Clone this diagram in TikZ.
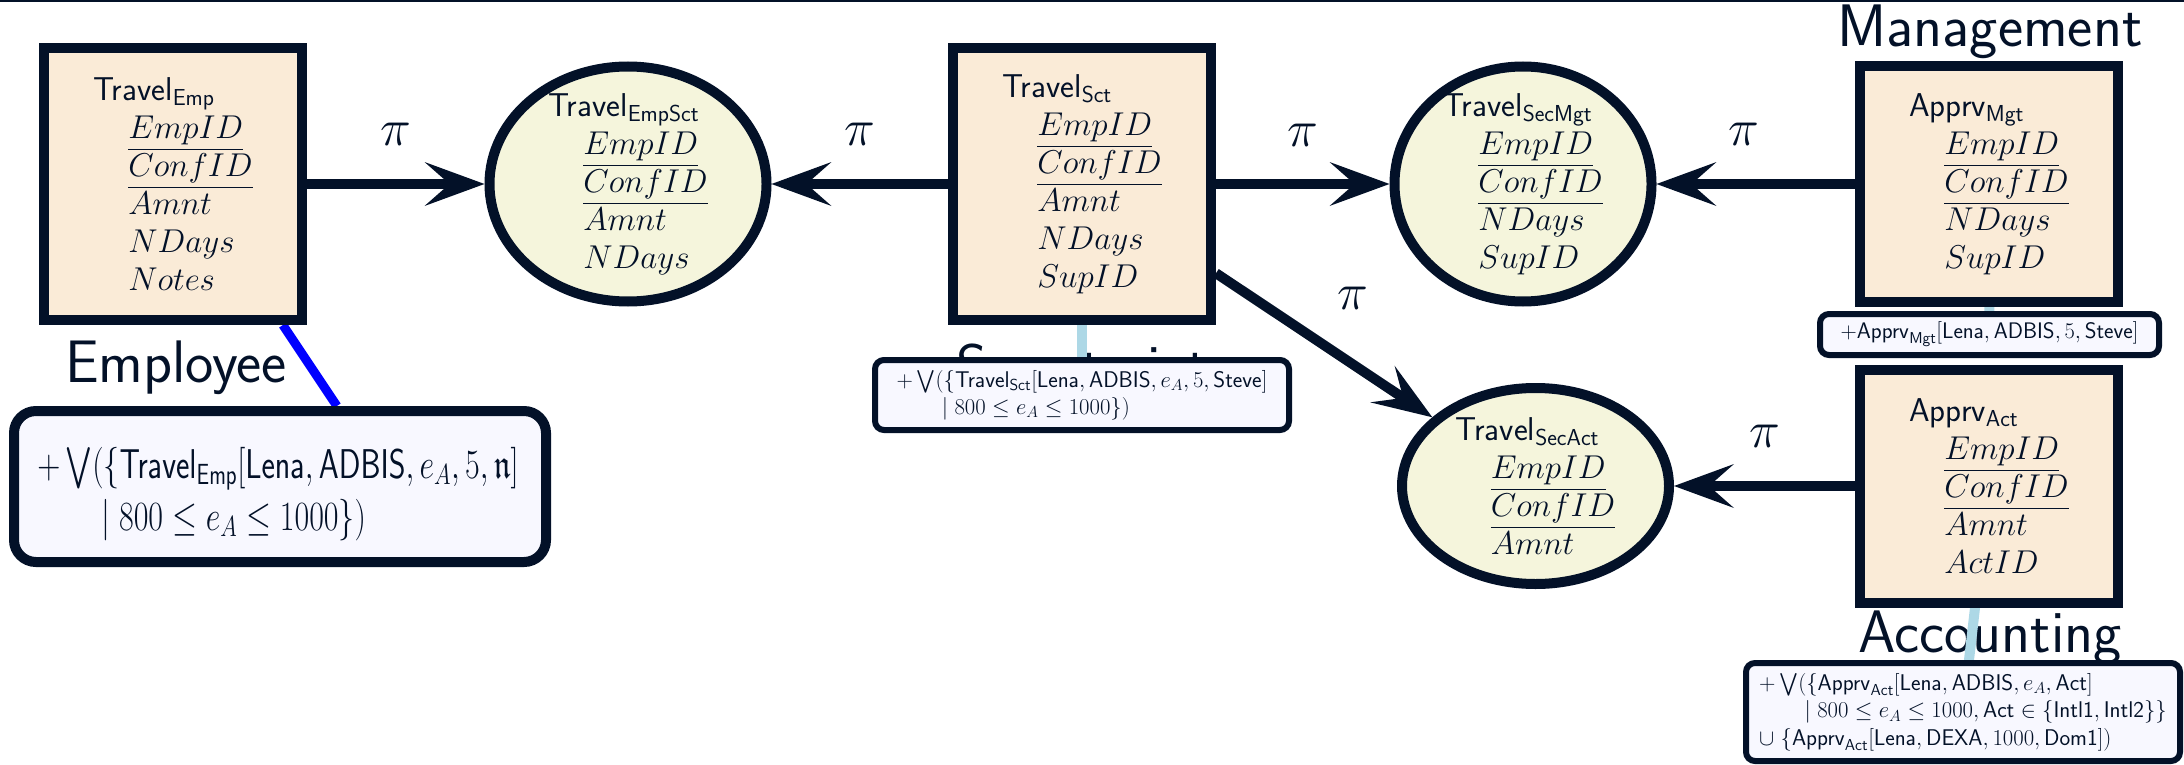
\RequirePackage{fix-cm}
\documentclass[tikz,border=0pt]{standalone}
\usepackage{amsmath,amssymb}
\usetikzlibrary{arrows.meta,shapes.geometric,calc}
\definecolor{dk}{RGB}{3,17,40}
\definecolor{boxfill}{RGB}{250,235,215}
\definecolor{ellfill}{RGB}{245,245,220}
\definecolor{notefill}{RGB}{248,248,255}
\definecolor{lblue}{RGB}{173,216,230}
\pgfdeclarelayer{bg}
\pgfsetlayers{bg,main}
\newcommand\fieldfont{\fontsize{33}{38}\selectfont\sffamily}
\newcommand\relnm[2]{\textsf{#1}$_{\mathsf{#2}}$}
\newcommand\keyat[1]{\hspace*{35pt}$\underline{#1}$}
\newcommand\plainat[1]{\hspace*{35pt}$#1$}
\tikzset{
  tbox/.style={draw=dk, line width=10pt, fill=boxfill, rectangle, minimum width=258pt, inner sep=0pt, align=left, font=\fieldfont, text=dk},
  ellshape/.style={draw=dk, line width=10pt, fill=ellfill, ellipse, inner sep=0pt},
  fieldtxt/.style={align=left, font=\fieldfont, text=dk, inner sep=0pt},
  note/.style={draw=dk, line width=6pt, fill=notefill, rounded corners=9pt, inner sep=0pt, align=left, text=dk},
  heading/.style={font=\fontsize{60}{64}\selectfont\sffamily, text=dk, anchor=base, inner sep=0pt},
  arr/.style={draw=dk, line width=10pt, -{Stealth[length=60pt,width=44pt,inset=25pt,line width=0pt]}},
  pil/.style={font=\fontsize{52}{52}\selectfont, text=dk, inner sep=0pt},
  empline/.style={draw=blue, line width=9pt},
  lbline/.style={draw=lblue, line width=10pt}
}
\begin{document}
\begin{tikzpicture}[x=1pt,y=-1pt]
\useasboundingbox (0,0) rectangle (2184,765);

% notes
\node[note, line width=10pt, rounded corners=22pt, minimum width=532pt, minimum height=151pt] (nEmp) at (280,486.5) {};
\node[text=dk, inner sep=0pt, font=\fontsize{32}{40}\selectfont] (nEmpT) at (278,494)
  {\scalebox{1}[1.3]{\begin{tabular}{@{}l@{}}
   $+\bigvee(\{\mathsf{Travel}_{\mathsf{Emp}}[\mathsf{Lena},\mathsf{ADBIS},e_A,5,\mathfrak{n}]$\\
   \hspace*{2em}$\mid 800\leq e_A\leq 1000\})$
   \end{tabular}}};
\node[note, minimum width=414pt, minimum height=70pt, font=\fontsize{22.7}{27}\selectfont] (nSct) at (1082,395)
  {$+\bigvee(\{\mathsf{Travel}_{\mathsf{Sct}}[\mathsf{Lena},\mathsf{ADBIS},e_A,5,\mathsf{Steve}]$\\
   \hspace*{2em}$\mid 800\leq e_A\leq 1000\})$};
\node[note, minimum width=339pt, minimum height=41pt, font=\fontsize{22.5}{27}\selectfont] (nMgt) at (1989.5,334.5)
  {$+\mathsf{Apprv}_{\mathsf{Mgt}}[\mathsf{Lena},\mathsf{ADBIS},5,\mathsf{Steve}]$};
\node[note, minimum width=434pt, minimum height=98pt, font=\fontsize{22.7}{27.5}\selectfont] (nAct) at (1963,712)
  {$+\bigvee(\{\mathsf{Apprv}_{\mathsf{Act}}[\mathsf{Lena},\mathsf{ADBIS},e_A,\mathsf{Act}]$\\
   \hspace*{2em}$\mid 800\leq e_A\leq 1000,\mathsf{Act}\in\{\mathsf{Intl1},\mathsf{Intl2}\}\}$\\
   $\cup\;\{\mathsf{Apprv}_{\mathsf{Act}}[\mathsf{Lena},\mathsf{DEXA},1000,\mathsf{Dom1}])$};

% relation boxes
\node[tbox, minimum height=272pt] (tEmp) at (173,184)
  {\relnm{Travel}{Emp}\\ \keyat{EmpID}\\ \keyat{ConfID}\\ \plainat{Amnt}\\ \plainat{NDays}\\ \plainat{Notes}};
\node[tbox, minimum height=272pt] (tSct) at (1082,184)
  {\relnm{Travel}{Sct}\\ \keyat{EmpID}\\ \keyat{ConfID}\\ \plainat{Amnt}\\ \plainat{NDays}\\ \plainat{SupID}};
\node[tbox, minimum height=235pt] (tMgt) at (1989,184)
  {\relnm{Apprv}{Mgt}\\ \keyat{EmpID}\\ \keyat{ConfID}\\ \plainat{NDays}\\ \plainat{SupID}};
\node[tbox, minimum height=233pt] (tAct) at (1989,486)
  {\relnm{Apprv}{Act}\\ \keyat{EmpID}\\ \keyat{ConfID}\\ \plainat{Amnt}\\ \plainat{ActID}};

% view ellipses
\node[ellshape, minimum width=277pt, minimum height=235pt] (eEmp) at (628,184) {};
\node[fieldtxt] (eEmpT) at (eEmp.center)
  {\relnm{Travel}{EmpSct}\\ \keyat{EmpID}\\ \keyat{ConfID}\\ \plainat{Amnt}\\ \plainat{NDays}};
\node[ellshape, minimum width=257pt, minimum height=235pt] (eMgt) at (1523,184) {};
\node[fieldtxt] (eMgtT) at (eMgt.center)
  {\relnm{Travel}{SecMgt}\\ \keyat{EmpID}\\ \keyat{ConfID}\\ \plainat{NDays}\\ \plainat{SupID}};
\node[ellshape, minimum width=267pt, minimum height=196pt] (eAct) at (1535.5,486) {};
\node[fieldtxt] (eActT) at (eAct.center)
  {\relnm{Travel}{SecAct}\\ \keyat{EmpID}\\ \keyat{ConfID}\\ \plainat{Amnt}};

% arrows
\draw[arr] (tEmp) -- node[pil, yshift=50pt] (p1) {$\pi$} (eEmp);
\draw[arr] (tSct) -- node[pil, yshift=50pt] (p2) {$\pi$} (eEmp);
\draw[arr] (tSct) -- node[pil, yshift=49pt] (p3) {$\pi$} (eMgt);
\draw[arr] (tMgt) -- node[pil, xshift=-12pt, yshift=50pt] (p4) {$\pi$} (eMgt);
\draw[arr] (tSct) -- node[pil, xshift=29pt, yshift=47pt] (p5) {$\pi$} (eAct);
\draw[arr] (tAct) -- node[pil, yshift=50pt] (p6) {$\pi$} (eAct);

\begin{pgfonlayer}{bg}
\draw[dk, line width=2pt] (0,1) -- (2184,1);
\node[heading] (hEmp) at (176,382) {Employee};
\node[heading] (hSct) at (1082,386) {Secretariat};
\node[heading] (hMgt) at (1990,47) {Management};
\node[heading] (hAct) at (1990,652) {Accounting};
\draw[empline] ($(tEmp.south west)!0.91!(tEmp.south east)$) -- ($(nEmp.north west)!0.605!(nEmp.north east)$);
\draw[lbline] (tSct.center) -- (nSct.center);
\draw[lbline] (tMgt.center) -- (nMgt.center);
\draw[lbline] (tAct.center) -- (nAct.center);
\end{pgfonlayer}
\end{tikzpicture}
\end{document}
